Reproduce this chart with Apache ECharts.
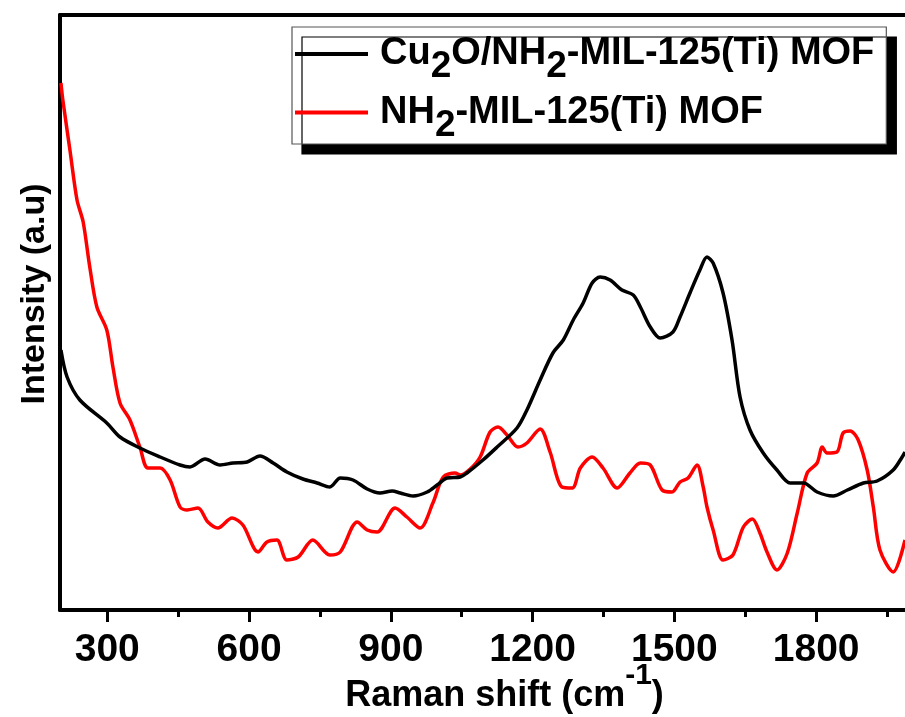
<!DOCTYPE html>
<html>
<head>
<meta charset="utf-8">
<title>Raman spectra</title>
<script src="https://cdn.jsdelivr.net/npm/echarts@6/dist/echarts.min.js"></script>
<style>
  html, body { margin: 0; padding: 0; background: #ffffff; }
  #chart { width: 905px; height: 717px; }
</style>
</head>
<body>
<div id="chart"></div>
<script>
// Raman shift (cm-1) and intensity (a.u.) for the composite
const compositeShift = [202, 215, 242, 299, 327, 369, 412, 454, 475, 507, 539, 566, 596, 623, 651, 680, 714, 744, 771, 793, 820, 850, 877, 903, 920, 947, 977, 998, 1019, 1047, 1061, 1095, 1125, 1167, 1188, 1216, 1243, 1265, 1286, 1307, 1326, 1343, 1364, 1389, 1413, 1428, 1449, 1470, 1497, 1512, 1533, 1554, 1569, 1582, 1603, 1622, 1639, 1660, 1688, 1717, 1745, 1773, 1802, 1836, 1866, 1900, 1929, 1963, 1982, 1988];
const compositeIntensity = [260, 233, 210, 187, 173, 162, 153, 145, 143, 151, 145, 147, 148, 154, 147, 138, 131, 127, 123, 132, 130, 121, 117, 119, 117, 114, 118, 125, 132, 133, 137, 150, 163, 182, 200, 230, 257, 270, 290, 307, 327, 333, 330, 320, 315, 303, 283, 272, 278, 293, 317, 340, 353, 347, 317, 270, 213, 180, 157, 140, 127, 127, 118, 114, 120, 127, 129, 140, 153, 158];

// Raman shift (cm-1) and intensity (a.u.) for the bare MOF
const mofShift = [202, 206, 221, 236, 249, 263, 278, 299, 312, 327, 348, 369, 386, 412, 433, 454, 469, 492, 513, 534, 564, 587, 619, 638, 659, 680, 704, 735, 771, 793, 829, 850, 871, 909, 934, 962, 989, 1011, 1036, 1047, 1068, 1089, 1110, 1127, 1146, 1169, 1188, 1216, 1237, 1262, 1284, 1301, 1326, 1349, 1379, 1406, 1428, 1449, 1474, 1495, 1512, 1529, 1548, 1561, 1569, 1582, 1603, 1624, 1646, 1665, 1681, 1696, 1717, 1739, 1760, 1781, 1802, 1813, 1823, 1844, 1857, 1872, 1889, 1908, 1921, 1935, 1963, 1988];
const mofIntensity = [527, 510, 460, 410, 388, 343, 303, 280, 243, 207, 190, 163, 142, 142, 130, 103, 100, 102, 88, 82, 92, 85, 58, 68, 70, 50, 53, 70, 55, 58, 88, 80, 78, 102, 93, 82, 107, 133, 137, 135, 141, 153, 178, 183, 175, 163, 167, 181, 158, 123, 122, 142, 153, 142, 122, 137, 147, 145, 120, 118, 128, 132, 145, 123, 103, 80, 50, 55, 83, 91, 77, 58, 40, 57, 97, 137, 147, 163, 157, 158, 177, 179, 170, 140, 103, 60, 38, 70];

// Axis ticks
const majorTicks = [300, 600, 900, 1200, 1500, 1800];
const minorTicks = [450, 750, 1050, 1350, 1650, 1950];

const seriesNames = ['Cu2O/NH2-MIL-125(Ti) MOF', 'NH2-MIL-125(Ti) MOF'];
const legendLabels = {
  'Cu2O/NH2-MIL-125(Ti) MOF': '{g| }Cu{s|2}O/NH{s|2}-MIL-125(Ti) MOF',
  'NH2-MIL-125(Ti) MOF': '{g| }NH{s|2}-MIL-125(Ti) MOF'
};

const FONT = "'Liberation Sans', Arial, sans-serif";

function pairs(xs, ys) {
  return xs.map((x, i) => [x, ys[i]]);
}

const chart = echarts.init(document.getElementById('chart'), null, { renderer: 'canvas' });

chart.setOption({
  backgroundColor: '#ffffff',
  animation: false,
  grid: {
    left: 60, top: 15, right: 0, bottom: 107,
    containLabel: false,
    outerBoundsMode: 'none'
  },
  legend: {
    data: seriesNames,
    orient: 'vertical',
    left: 292,
    top: 27,
    padding: [8, 12, 0, 3],
    itemGap: 8,
    itemWidth: 73,
    itemHeight: 4,
    icon: 'rect',
    backgroundColor: '#ffffff',
    borderColor: '#555555',
    borderWidth: 1.2,
    shadowColor: '#000000',
    shadowBlur: 0,
    shadowOffsetX: 10,
    shadowOffsetY: 10,
    formatter: (name) => legendLabels[name],
    textStyle: {
      fontFamily: FONT,
      fontWeight: 'bold',
      fontSize: 38,
      color: '#000000',
      lineHeight: 36,
      rich: {
        g: { width: 7, fontSize: 10, lineHeight: 36 },
        s: {
          fontFamily: FONT,
          fontWeight: 'bold',
          fontSize: 37,
          color: '#000000',
          lineHeight: 36,
          height: 10,
          padding: [26, 0, 0, 0]
        }
      }
    }
  },
  xAxis: [
    {
      type: 'value',
      min: 200,
      max: 1988,
      position: 'bottom',
      name: 'Raman shift (cm{sup|-1})',
      nameLocation: 'middle',
      nameGap: 68,
      nameMoveOverlap: false,
      nameTextStyle: {
        fontFamily: FONT,
        fontWeight: 'bold',
        fontSize: 36,
        lineHeight: 36,
        color: '#000000',
        padding: [0, 0, 0, 44],
        rich: {
          sup: {
            fontFamily: FONT,
            fontWeight: 'bold',
            fontSize: 30,
            color: '#000000',
            lineHeight: 36,
            height: 10,
            padding: [0, 0, 40, 0]
          }
        }
      },
      axisLine: { show: true, onZero: false, lineStyle: { color: '#000000', width: 4 } },
      axisTick: {
        show: true,
        inside: false,
        length: 12,
        customValues: majorTicks,
        lineStyle: { color: '#000000', width: 3 }
      },
      axisLabel: {
        show: true,
        customValues: majorTicks,
        formatter: (v) => String(v),
        margin: 21,
        fontFamily: FONT,
        fontWeight: 'bold',
        fontSize: 39,
        color: '#000000'
      },
      splitLine: { show: false }
    },
    {
      // short intermediate ticks
      type: 'value',
      min: 200,
      max: 1988,
      position: 'bottom',
      offset: 0,
      axisLine: { show: false, onZero: false },
      axisTick: {
        show: true,
        inside: false,
        length: 7,
        customValues: minorTicks,
        lineStyle: { color: '#000000', width: 3 }
      },
      axisLabel: { show: false },
      splitLine: { show: false }
    },
    {
      // top frame line
      type: 'value',
      min: 200,
      max: 1988,
      position: 'top',
      axisLine: { show: true, onZero: false, lineStyle: { color: '#000000', width: 4 } },
      axisTick: { show: false },
      axisLabel: { show: false },
      splitLine: { show: false }
    }
  ],
  yAxis: {
    type: 'value',
    min: 0,
    max: 595,
    name: 'Intensity (a.u)',
    nameLocation: 'middle',
    nameRotate: 90,
    nameGap: 8,
    nameMoveOverlap: false,
    nameTextStyle: {
      fontFamily: FONT,
      fontWeight: 'bold',
      fontSize: 34,
      color: '#000000',
      padding: [0, 0, 0, 37]
    },
    axisLine: { show: true, onZero: false, lineStyle: { color: '#000000', width: 4 } },
    axisTick: { show: false },
    axisLabel: { show: false },
    splitLine: { show: false }
  },
  series: [
    {
      name: seriesNames[0],
      type: 'line',
      xAxisIndex: 0,
      data: pairs(compositeShift, compositeIntensity),
      showSymbol: false,
      smooth: 0.3,
      lineStyle: { color: '#000000', width: 3.5 },
      itemStyle: { color: '#000000' },
      z: 3
    },
    {
      name: seriesNames[1],
      type: 'line',
      xAxisIndex: 0,
      data: pairs(mofShift, mofIntensity),
      showSymbol: false,
      smooth: 0.3,
      lineStyle: { color: '#ff0000', width: 3.5 },
      itemStyle: { color: '#ff0000' },
      z: 2
    }
  ]
});
</script>
</body>
</html>
